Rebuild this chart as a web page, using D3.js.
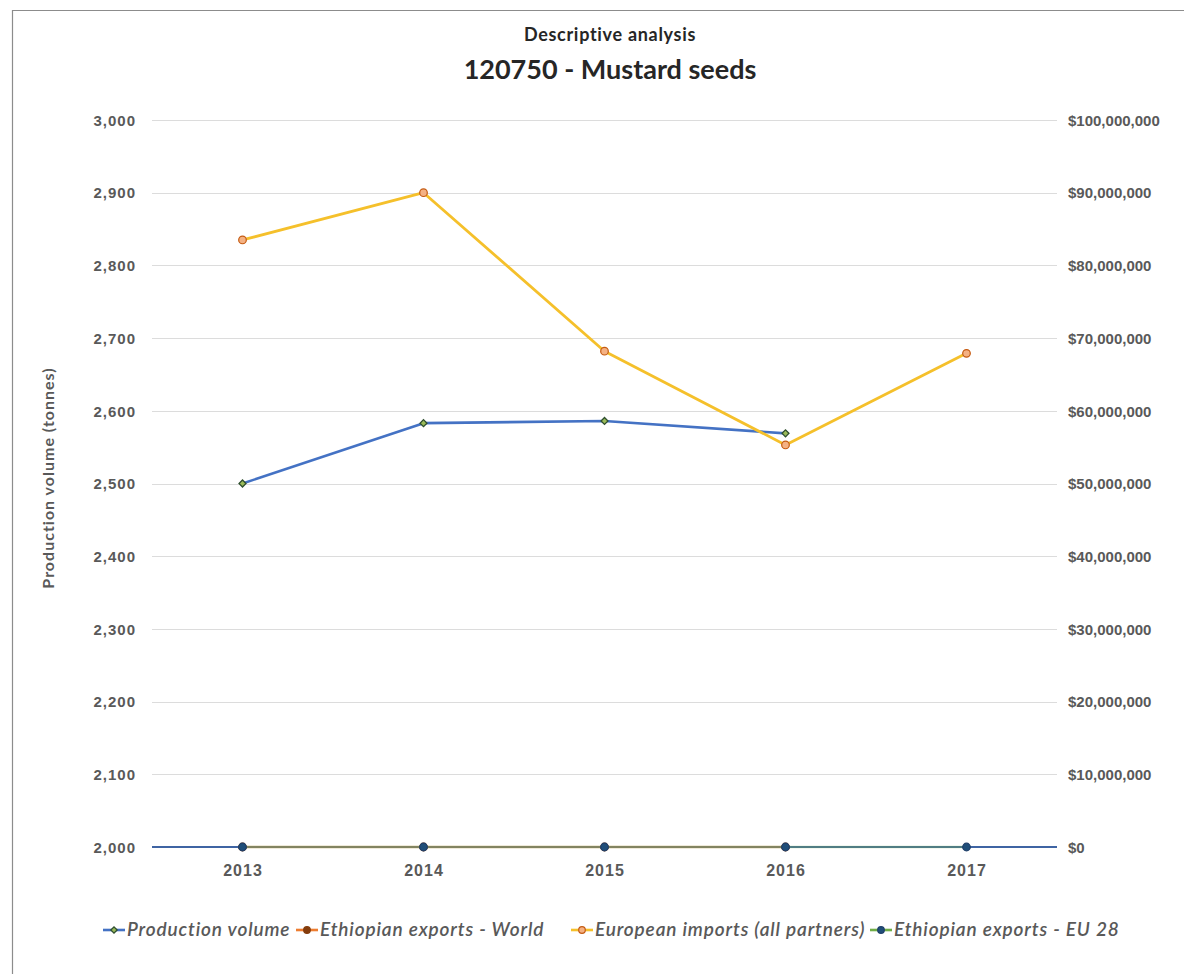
<!DOCTYPE html>
<html>
<head>
<meta charset="utf-8">
<script src="https://cdn.jsdelivr.net/npm/d3@7"></script>
<style>
  html, body { margin: 0; padding: 0; background: #fff; }
  svg { display: block; font-family: Lato, "Open Sans", sans-serif; }
</style>
</head>
<body>
<svg id="chart" width="1184" height="974"></svg>
<script>
// Years on the category axis
const years = ["2013", "2014", "2015", "2016", "2017"];

// Production volume (tonnes) – left axis
const productionVolume = [2500, 2583, 2586, 2569, null];

// Trade values (US$) – right axis
const ethiopianExportsWorld = [0, 0, 0, 0, null];
const europeanImports = [83500000, 90000000, 68200000, 55300000, 67900000];
const ethiopianExportsEU28 = [0, 0, 0, 0, 0];

// Tick values
const leftTicks = [2000, 2100, 2200, 2300, 2400, 2500, 2600, 2700, 2800, 2900, 3000];
const rightTicks = [0, 10e6, 20e6, 30e6, 40e6, 50e6, 60e6, 70e6, 80e6, 90e6, 100e6];

const svg = d3.select("#chart");
const plot = { left: 152, right: 1057, top: 120, bottom: 847 };

// Outer chart frame
svg.append("path")
  .attr("d", `M12.5,974 V10.5 H1184`)
  .attr("fill", "none").attr("stroke", "#8c8c8c").attr("stroke-width", 1.2);

const x = d3.scalePoint().domain(years).range([plot.left, plot.right]).padding(0.5);
const yLeft = d3.scaleLinear().domain([2000, 3000]).range([plot.bottom, plot.top]);
const yRight = d3.scaleLinear().domain([0, 100e6]).range([plot.bottom, plot.top]);

// Gridlines
svg.append("g").selectAll("line").data(leftTicks.slice(1)).join("line")
  .attr("x1", plot.left).attr("x2", plot.right)
  .attr("y1", d => Math.round(yLeft(d)) + 0.5).attr("y2", d => Math.round(yLeft(d)) + 0.5)
  .attr("stroke", "#dcdcdc").attr("stroke-width", 1);

// Left axis
const fmtLeft = d3.format(",");
const gL = svg.append("g").attr("transform", `translate(${plot.left - 16},0)`)
  .call(d3.axisLeft(yLeft).tickValues(leftTicks).tickFormat(fmtLeft).tickSize(0).tickPadding(0));
gL.select(".domain").remove();
gL.selectAll("text").attr("fill", "#595959").attr("font-size", 15).attr("font-weight", 600)
  .attr("letter-spacing", 1).attr("dy", "0.35em");

// Right axis
const fmtRight = d => "$" + d3.format(",")(d);
const gR = svg.append("g").attr("transform", `translate(${plot.right + 11},0)`)
  .call(d3.axisRight(yRight).tickValues(rightTicks).tickFormat(fmtRight).tickSize(0).tickPadding(0));
gR.select(".domain").remove();
gR.selectAll("text").attr("fill", "#595959").attr("font-size", 15).attr("font-weight", 600)
  .attr("dy", "0.35em");

// Bottom axis labels
const gB = svg.append("g").attr("transform", `translate(0,${plot.bottom + 17})`)
  .call(d3.axisBottom(x).tickSize(0).tickPadding(0));
gB.select(".domain").remove();
gB.selectAll("text").attr("fill", "#595959").attr("font-size", 16).attr("font-weight", 600)
  .attr("letter-spacing", 1).attr("dy", "0.75em");

// Category axis line
svg.append("line")
  .attr("x1", plot.left).attr("x2", plot.right)
  .attr("y1", plot.bottom).attr("y2", plot.bottom)
  .attr("stroke", "#3f64a3").attr("stroke-width", 2);

// Left axis title
svg.append("text")
  .attr("transform", `translate(54,478) rotate(-90)`)
  .attr("text-anchor", "middle").attr("fill", "#595959")
  .attr("font-size", 16).attr("font-weight", 700).attr("letter-spacing", 1)
  .text("Production volume (tonnes)");

// Titles
svg.append("text").attr("x", 610).attr("y", 41).attr("text-anchor", "middle")
  .attr("fill", "#262626").attr("font-size", 18).attr("font-weight", 700).attr("letter-spacing", 0.7)
  .text("Descriptive analysis");
svg.append("text").attr("x", 610).attr("y", 79).attr("text-anchor", "middle")
  .attr("fill", "#262626").attr("font-size", 27).attr("font-weight", 700)
  .text("120750 - Mustard seeds");

// Series definitions
const series = [
  { name: "Production volume", values: productionVolume, y: yLeft,
    color: "#4472c4", width: 2.6, marker: "diamond", mFill: "#9bbb59", mStroke: "#2f4f2f", opacity: 1 },
  { name: "Ethiopian exports - World", values: ethiopianExportsWorld, y: yRight,
    color: "#ed7d31", width: 2.6, marker: "circle", mFill: "#843c0c", mStroke: "#843c0c", opacity: 0.45 },
  { name: "European imports (all partners)", values: europeanImports, y: yRight,
    color: "#f5c02b", width: 2.8, marker: "circle", mFill: "#f4b183", mStroke: "#c55a11", opacity: 1 },
  { name: "Ethiopian exports - EU 28", values: ethiopianExportsEU28, y: yRight,
    color: "#70ad47", width: 2.6, marker: "circle", mFill: "#1f4e79", mStroke: "#1f3f6a", opacity: 0.35 }
];

function drawMarker(g, s, cx, cy, legend) {
  if (s.marker === "diamond") {
    g.append("path").attr("d", d3.symbol().type(d3.symbolSquare).size(legend ? 20 : 24)())
      .attr("transform", `translate(${cx},${cy}) rotate(45)`)
      .attr("fill", s.mFill).attr("stroke", s.mStroke).attr("stroke-width", 1.3);
  } else {
    g.append("circle").attr("cx", cx).attr("cy", cy).attr("r", legend ? 3.3 : 3.8)
      .attr("fill", s.mFill).attr("stroke", s.mStroke).attr("stroke-width", 1.2);
  }
}

// Draw zero-valued series first, then the main series on top
const order = [1, 3, 0, 2];
order.forEach(i => {
  const s = series[i];
  const pts = years.map((yr, j) => ({ yr, v: s.values[j] }));
  const line = d3.line().defined(d => d.v != null).x(d => x(d.yr)).y(d => s.y(d.v));
  const g = svg.append("g");
  g.append("path").datum(pts).attr("d", line)
    .attr("fill", "none").attr("stroke", s.color).attr("stroke-width", s.width)
    .attr("stroke-opacity", s.opacity).attr("stroke-linejoin", "round");
  pts.filter(d => d.v != null).forEach(d => drawMarker(g, s, x(d.yr), s.y(d.v), false));
});

// Legend
const legendItems = [
  { s: series[0], x: 103 },
  { s: series[1], x: 296 },
  { s: series[2], x: 571 },
  { s: series[3], x: 870 }
];
const lg = svg.append("g");
legendItems.forEach(it => {
  const cy = 930;
  lg.append("line").attr("x1", it.x).attr("x2", it.x + 22).attr("y1", cy).attr("y2", cy)
    .attr("stroke", it.s.color).attr("stroke-width", 2.6);
  drawMarker(lg, it.s, it.x + 11, cy, true);
  lg.append("text").attr("x", it.x + 24).attr("y", cy + 6)
    .attr("fill", "#595959").attr("font-size", 19).attr("font-style", "italic").attr("font-weight", 600)
    .attr("letter-spacing", 0.85)
    .text(it.s.name);
});
</script>
</body>
</html>
